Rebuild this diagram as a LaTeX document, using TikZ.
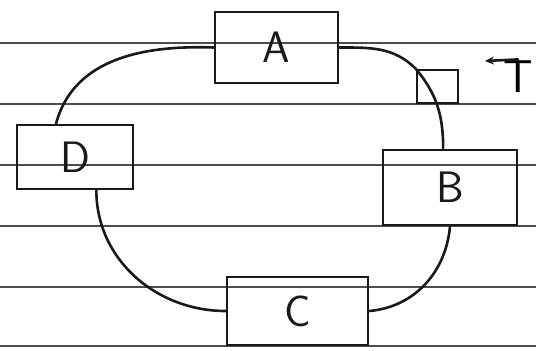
\documentclass[tikz,border=0pt]{standalone}
\usepackage{tikz}
\usetikzlibrary{positioning, calc, arrows.meta}

\begin{document}
\begin{tikzpicture}[
    x=1pt, y=-1pt,
    pen/.style={line width=2.6pt, black!90, line cap=round},
    station/.style={draw, pen, rectangle, align=center, font=\fontsize{44}{44}\selectfont\sffamily},
    ruled/.style={line width=1.2pt, black!70}
]
    \useasboundingbox (0,0) rectangle (536,351);

    % --- Ruled paper ---
    \foreach \y in {43,104,165,226,287,346} {
        \draw[ruled] (0,\y) -- (536,\y);
    }

    % --- Stations ---
    \node[station, minimum width=123pt, minimum height=71pt] (A) at (276.5,47.5) {A};
    \node[station, minimum width=134pt, minimum height=75pt] (B) at (450,187.5) {B};
    \node[station, minimum width=141pt, minimum height=68pt] (C) at (297.5,311) {C};
    \node[station, minimum width=116pt, minimum height=64pt] (D) at (75,157) {D};

    % --- Token box and label ---
    \node[draw, pen, rectangle, minimum width=41pt, minimum height=33pt] (tok) at (437.5,86.5) {};
    \node[font=\fontsize{46}{46}\selectfont\sffamily, inner sep=0pt] (T) at (518,77) {T};
    \coordinate (Tend) at (485,61);
    \draw[pen, -{Stealth[length=9pt, width=8pt]}] ([yshift=1.5pt]T.north) -- (Tend);

    % --- Ring connections ---
    \draw[pen] ($(D.north west)!0.34!(D.north east)$) to[out=75, in=178] (A.west);
    \draw[pen] (A.east) to[out=0, in=135] (tok.north west)
        to[out=-50, in=90] ($(B.north west)!0.45!(B.north east)$);
    \draw[pen] (B.south) to[out=-95, in=5] (C.east);
    \draw[pen] ($(D.south west)!0.68!(D.south east)$) to[out=-90, in=180] (C.west);

\end{tikzpicture}
\end{document}
